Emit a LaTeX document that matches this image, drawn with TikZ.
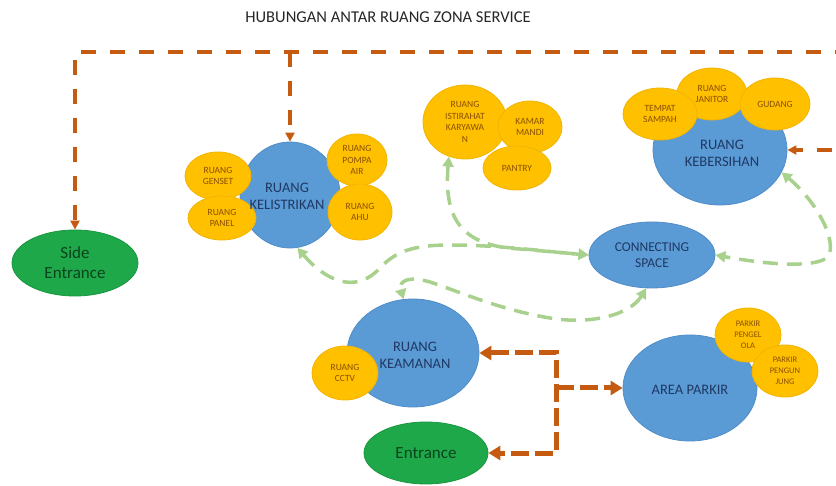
\documentclass[tikz,border=0pt]{standalone}
\usepackage{fontspec}
\setmainfont{Carlito}
\usetikzlibrary{shapes.geometric,arrows.meta}
\definecolor{bluefill}{HTML}{5B9BD5}
\definecolor{blueline}{HTML}{4F8CC9}
\definecolor{bluetext}{HTML}{1F3864}
\definecolor{goldfill}{HTML}{FFC000}
\definecolor{goldline}{HTML}{F2B400}
\definecolor{goldtext}{HTML}{8A5000}
\definecolor{greenfill}{HTML}{1EA84A}
\definecolor{greenline}{HTML}{199640}
\definecolor{greentext}{HTML}{0A431C}
\definecolor{orangeline}{HTML}{C55A11}
\definecolor{lightgreen}{HTML}{A9D18E}
\definecolor{titletext}{HTML}{262626}
\begin{document}
\begin{tikzpicture}[x=1pt,y=-1pt,
  blueell/.style={ellipse, fill=bluefill, draw=blueline, line width=0.8pt, inner sep=0pt,
    font=\fontsize{14.5}{17}\selectfont, text=bluetext, align=center},
  bluelabel/.style={inner sep=0pt, font=\fontsize{14.5}{17}\selectfont, text=bluetext, align=center},
  goldell/.style={ellipse, fill=goldfill, draw=goldline, line width=0.8pt, inner sep=0pt,
    font=\fontsize{9.5}{11.5}\selectfont, text=goldtext, align=center},
  goldsmall/.style={goldell, font=\fontsize{8.5}{11}\selectfont},
  greenell/.style={ellipse, fill=greenfill, draw=greenline, line width=0.8pt, inner sep=0pt,
    font=\fontsize{17}{20}\selectfont, text=greentext, align=center},
  od/.style={draw=orangeline, line width=3.5pt, dash pattern=on 15pt off 14pt},
  odb/.style={draw=orangeline, line width=5pt, dash pattern=on 18pt off 6pt},
  otip/.style={-{Triangle[length=9pt,width=9pt]}},
  gd/.style={draw=lightgreen, line width=3.5pt, dash pattern=on 15pt off 9pt},
  gtip/.style={{Triangle[length=10pt,width=11pt]}-{Triangle[length=10pt,width=11pt]}},
]
\useasboundingbox (0,0) rectangle (836,486);

% title
\node[font=\fontsize{16.5}{19}\selectfont, text=titletext] (title) at (388,17) {HUBUNGAN ANTAR RUANG ZONA SERVICE};

% green entrances
\node[greenell, minimum width=126pt, minimum height=66pt] (side) at (75,263) {Side\\Entrance};
\node[greenell, minimum width=124pt, minimum height=62pt] (ent) at (426,453) {Entrance};

% Ruang Kelistrikan group
\node[blueell, minimum width=100pt, minimum height=106pt] (kel) at (290,195) {};
\node[goldell, minimum width=66pt, minimum height=48pt] (genset) at (218,176) {RUANG\\GENSET};
\node[goldell, minimum width=68pt, minimum height=44pt] (panel) at (222,218) {RUANG\\PANEL};
\node[goldell, minimum width=60pt, minimum height=52pt] (pompa) at (357,160) {RUANG\\POMPA\\AIR};
\node[goldell, minimum width=64pt, minimum height=56pt] (ahu) at (360,212) {RUANG\\AHU};
\node[bluelabel] (kelT) at (287,196) {RUANG\\KELISTRIKAN};

% Istirahat group
\node[goldell, minimum width=84pt, minimum height=74pt] (ist) at (465,122) {RUANG\\ISTIRAHAT\\KARYAWA\\N};
\node[goldell, minimum width=64pt, minimum height=52pt] (kamar) at (530,127) {KAMAR\\MANDI};
\node[goldell, minimum width=68pt, minimum height=44pt] (pantry) at (517,168) {PANTRY};

% Ruang Kebersihan group
\node[blueell, minimum width=134pt, minimum height=110pt] (keb) at (720,150) {};
\node[goldell, minimum width=70pt, minimum height=52pt] (janitor) at (712,94) {RUANG\\JANITOR};
\node[goldell, minimum width=74pt, minimum height=52pt] (sampah) at (660,114) {TEMPAT\\SAMPAH};
\node[goldell, minimum width=70pt, minimum height=52pt] (gudang) at (775,104) {GUDANG};
\node[bluelabel] (kebT) at (722,153) {RUANG\\KEBERSIHAN};

% Connecting space
\node[blueell, minimum width=126pt, minimum height=66pt, font=\fontsize{13.5}{16}\selectfont] (conn) at (652,255) {CONNECTING\\SPACE};

% Ruang Keamanan group
\node[blueell, minimum width=132pt, minimum height=108pt] (keam) at (413,353) {};
\node[goldell, minimum width=66pt, minimum height=54pt] (cctv) at (345,373) {RUANG\\CCTV};
\node[bluelabel] (keamT) at (415,355) {RUANG\\KEAMANAN};

% Area Parkir group
\node[blueell, minimum width=134pt, minimum height=106pt] (park) at (690,388) {};
\node[goldsmall, minimum width=66pt, minimum height=54pt] (pengelola) at (748,335) {PARKIR\\PENGEL\\OLA};
\node[goldsmall, minimum width=66pt, minimum height=52pt] (pengunjung) at (785,371) {PARKIR\\PENGUN\\JUNG};
\node[bluelabel] (parkT) at (690,390) {AREA PARKIR};

% orange connectors (top)
\coordinate (offR) at (850,52);
\coordinate (offR2) at (850,150);
\draw[od, otip] (offR) -| (side.north);
\draw[od, otip] (kel.north |- offR) -- (kel.north);
\draw[od, otip] (offR) -- (offR2) -- (keb.east);

% orange connectors (bottom)
\coordinate (j) at (556,388);
\draw[odb, {Triangle[length=12pt,width=14pt]}-{Triangle[length=12pt,width=14pt]}]
  (keam.east) -- (keam.east -| j) -- (ent.east -| j) -- (ent.east);
\draw[odb, -{Triangle[length=12pt,width=14pt]}] (j) -- (park.west);

% green connectors
\draw[gd, gtip] (kel.-82) .. controls (325,280) and (355,295) .. (380,268)
  .. controls (395,252) and (412,245) .. (450,245)
  .. controls (500,245) and (550,252) .. (conn.west);
\draw[gd, gtip] (ist.-115) .. controls (444,215) and (458,246) .. (520,249) -- (conn.west);
\draw[gd, gtip] (conn.-100) .. controls (630,315) and (590,325) .. (550,318)
  .. controls (500,310) and (455,290) .. (430,282)
  .. controls (410,276) and (398,280) .. (keam.100);
\draw[gd, gtip] (keb.-20) .. controls (815,200) and (838,240) .. (828,257)
  .. controls (815,268) and (770,265) .. (conn.east);
\end{tikzpicture}
\end{document}
